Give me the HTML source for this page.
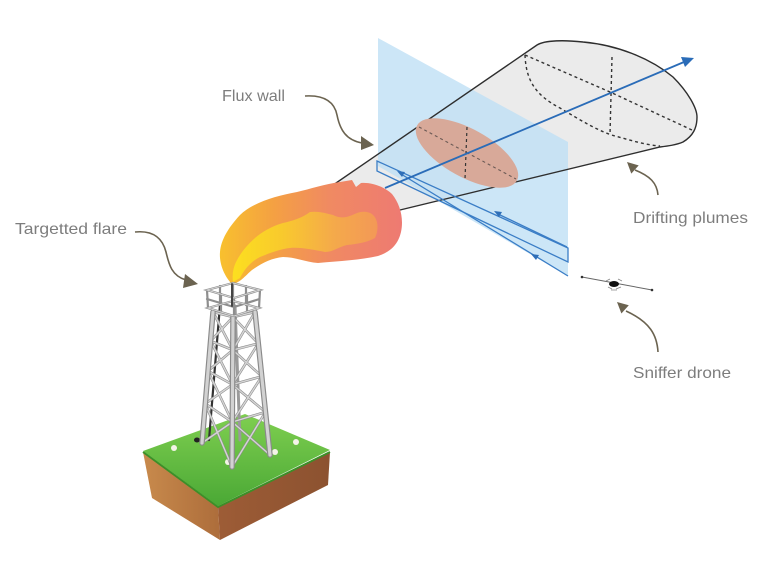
<!DOCTYPE html>
<html><head><meta charset="utf-8"><style>
html,body{margin:0;padding:0;background:#fff;}
svg{display:block;}
text{font-family:"Liberation Sans",sans-serif;font-size:16px;fill:#7d7d7d;}
</style></head><body>
<svg width="768" height="564" viewBox="0 0 768 564" xmlns="http://www.w3.org/2000/svg">
<defs>
<linearGradient id="flareG" x1="220" y1="0" x2="402" y2="0" gradientUnits="userSpaceOnUse">
<stop offset="0" stop-color="#f8c02e"/><stop offset="0.3" stop-color="#f4a043"/><stop offset="0.6" stop-color="#f08a62"/><stop offset="1" stop-color="#ee7a72"/>
</linearGradient>
<linearGradient id="innerG" x1="228" y1="0" x2="380" y2="0" gradientUnits="userSpaceOnUse">
<stop offset="0" stop-color="#fde51c"/><stop offset="0.35" stop-color="#f9cf2a"/><stop offset="0.7" stop-color="#f5ad48"/><stop offset="1" stop-color="#f39a55"/>
</linearGradient>
<linearGradient id="grassG" x1="0" y1="414" x2="0" y2="506" gradientUnits="userSpaceOnUse">
<stop offset="0" stop-color="#7fcf50"/><stop offset="1" stop-color="#4aa835"/>
</linearGradient>
<linearGradient id="leftF" x1="143" y1="0" x2="220" y2="0" gradientUnits="userSpaceOnUse">
<stop offset="0" stop-color="#c88a4c"/><stop offset="1" stop-color="#ad6d3b"/>
</linearGradient>
<linearGradient id="rightF" x1="220" y1="0" x2="330" y2="0" gradientUnits="userSpaceOnUse">
<stop offset="0" stop-color="#9d5c36"/><stop offset="1" stop-color="#8c5230"/>
</linearGradient>
</defs>

<!-- cone -->
<path d="M320,194 L537,45 C545,40 565,40 583,42 C617,45 650,58 673,77 C688,92 697,108 697,117 C697,128 693,136 683,142 C676,145 668,146 660,147 L400,210 Z" fill="#ebebeb"/>

<!-- flux wall -->
<polygon points="378,38 568,142 568,276 378,166" fill="#bfe0f5" fill-opacity="0.8"/>

<!-- cone outline -->
<path d="M320,194 L537,45 C545,40 565,40 583,42 C617,45 650,58 673,77 C688,92 697,108 697,117 C697,128 693,136 683,142 C676,145 668,146 660,147 L400,210" fill="none" stroke="#2e2e2e" stroke-width="1.4"/>

<!-- dashed cap lines -->
<path d="M525,55 C526,80 535,95 560,108 C580,120 600,132 615,136 C630,140 645,145 660,146" fill="none" stroke="#333" stroke-width="1.4" stroke-dasharray="3,3"/>
<path d="M525,55 L610,92 L692,130" fill="none" stroke="#333" stroke-width="1.4" stroke-dasharray="3,3"/>
<path d="M612,57 L610,134" fill="none" stroke="#333" stroke-width="1.4" stroke-dasharray="3,3"/>

<!-- red ellipse -->
<ellipse cx="467" cy="153" rx="57" ry="24" transform="rotate(29 467 153)" fill="#d8a999"/>
<path d="M419,127 L516,179" stroke="#6b5a55" stroke-width="1.1" stroke-dasharray="3,3" fill="none"/>
<path d="M467,127 L465,179" stroke="#333" stroke-width="1.2" stroke-dasharray="3,3" fill="none"/>

<!-- bar and flight lines -->
<polygon points="377,161 568,248 568,262 377,171" fill="none" stroke="#3a7dc6" stroke-width="1.3"/>
<line x1="568" y1="276" x2="401" y2="174" stroke="#3a7dc6" stroke-width="1.3"/>
<polygon points="397,171 405,172 402,177" fill="#2f6fb8"/>
<polygon points="531,254 539,255 536,260" fill="#2f6fb8"/>
<line x1="567" y1="247" x2="498" y2="214" stroke="#3a7dc6" stroke-width="1.3"/>
<polygon points="494,211 502,212 499,217" fill="#2f6fb8"/>

<!-- main blue arrow -->
<line x1="385" y1="188" x2="684" y2="62" stroke="#2a6cb8" stroke-width="1.8"/>
<polygon points="694,58 681,57 685,67" fill="#2a6cb8"/>

<!-- flare -->
<path d="M232,284 C224,276 219,263 220,252 C221,240 228,228 240,215 C252,203 275,196 297,192 C310,189 325,184 340,182 L352,180 L356,187 L361,183 C370,182 384,186 392,194 C400,204 404,218 401,232 C398,245 390,252 378,256 C360,260 340,261 318,263 C305,262 295,257 283,257 C272,258 262,263 252,270 C245,276 240,283 232,284 Z" fill="url(#flareG)"/>
<path d="M233,282 C232,275 233,268 236,262 C240,254 246,246 255,238 C262,232 272,226 283,223 C292,221 302,218 310,212 C318,211 325,213 333,215 C343,220 350,216 357,213 C362,211 370,211 374,216 C379,222 378,232 375,238 C368,242 358,244 347,245 C338,247 333,252 325,252 C315,250 300,247 290,248 C280,249 270,253 260,257 C250,262 244,270 240,278 Z" fill="url(#innerG)" opacity="0.9"/>

<!-- ground block -->
<polygon points="143,452 218,507 220,540 152,498" fill="url(#leftF)"/>
<polygon points="218,507 330,452 328,485 220,540" fill="url(#rightF)"/>
<polygon points="143,451 245,414 330,450 218,506" fill="url(#grassG)"/>
<polyline points="143,452 218,507 330,452" fill="none" stroke="#3c8f28" stroke-width="2"/>
<circle cx="174" cy="448" r="3" fill="#f4f4e8"/>
<circle cx="228" cy="462" r="3" fill="#f4f4e8"/>
<circle cx="275" cy="452" r="3" fill="#f4f4e8"/>
<circle cx="296" cy="442" r="3" fill="#f4f4e8"/>
<ellipse cx="197" cy="440" rx="3" ry="2.5" fill="#222"/>

<!-- tower -->
<g stroke-linecap="round" fill="none">
<!-- back leg -->
<line x1="235" y1="306" x2="240" y2="440" stroke="#9a9a9a" stroke-width="3"/>
<!-- dark pipe -->
<line x1="220" y1="305" x2="209" y2="440" stroke="#333" stroke-width="2.2"/>
<!-- braces -->
<g stroke="#8c8c8c" stroke-width="2.6">
<path d="M213,312 L233,317 L255,312 M210.6,341 L232.8,350 L258.3,343.5 M208,371 L232.5,384.5 L261.8,376.4 M205.3,403.7 L232.3,422 L265.5,412"/>
<path d="M213,312 L232.8,350 M233,317 L210.6,341 M210.6,341 L232.5,384.5 M232.8,350 L208,371 M208,371 L232.3,422 M232.5,384.5 L205.3,403.7 M205.3,403.7 L232,467 M232.3,422 L202,443"/>
<path d="M233,317 L258.3,343.5 M255,312 L232.8,350 M232.8,350 L261.8,376.4 M258.3,343.5 L232.5,384.5 M232.5,384.5 L265.5,412 M261.8,376.4 L232.3,422 M232.3,422 L270,455 M265.5,412 L232,467"/>
</g>
<g stroke="#d6d6d6" stroke-width="1.4">
<path d="M213,312 L233,317 L255,312 M210.6,341 L232.8,350 L258.3,343.5 M208,371 L232.5,384.5 L261.8,376.4 M205.3,403.7 L232.3,422 L265.5,412"/>
<path d="M213,312 L232.8,350 M233,317 L210.6,341 M210.6,341 L232.5,384.5 M232.8,350 L208,371 M208,371 L232.3,422 M232.5,384.5 L205.3,403.7 M205.3,403.7 L232,467 M232.3,422 L202,443"/>
<path d="M233,317 L258.3,343.5 M255,312 L232.8,350 M232.8,350 L261.8,376.4 M258.3,343.5 L232.5,384.5 M232.5,384.5 L265.5,412 M261.8,376.4 L232.3,422 M232.3,422 L270,455 M265.5,412 L232,467"/>
</g>
<!-- main legs -->
<g stroke="#8a8a8a" stroke-width="5.5">
<line x1="213" y1="312" x2="202" y2="443"/><line x1="233" y1="317" x2="232" y2="467"/><line x1="255" y1="312" x2="270" y2="455"/>
</g>
<g stroke="#d2d2d2" stroke-width="3.2">
<line x1="213" y1="312" x2="202" y2="443"/><line x1="233" y1="317" x2="232" y2="467"/><line x1="255" y1="312" x2="270" y2="455"/>
</g>
<!-- platform -->
<g stroke="#8e8e8e" stroke-width="2.2">
<polygon points="207,290 233,283 260,290 234,298"/>
<polygon points="208,308 233,301 259,308 234,316"/>
<path d="M207,290 L208,308 M234,298 L234,316 M260,290 L259,308 M233,283 L233,301 M207,299 L234,307 L259.5,299 M220,286 L220,305 M246,286 L246,305 M221,294 L221,312 M247,294 L247,312"/>
</g>
<g stroke="#dedede" stroke-width="0.9">
<polygon points="207,290 233,283 260,290 234,298"/>
<polygon points="208,308 233,301 259,308 234,316"/>
</g>
<line x1="232" y1="284" x2="232" y2="306" stroke="#444" stroke-width="2"/>
</g>

<!-- drone -->
<line x1="582" y1="277" x2="652" y2="290" stroke="#666" stroke-width="1"/>
<circle cx="582" cy="277" r="1.3" fill="#333"/>
<circle cx="652" cy="290" r="1.3" fill="#333"/>
<ellipse cx="614" cy="284" rx="5" ry="3" fill="#111"/>
<path d="M606,281 L610,279 M618,279 L622,281 M608,287 L612,289 M616,289 L621,287 M611,290 L617,290" stroke="#888" stroke-width="0.8"/>

<!-- callout arrows -->
<g fill="none" stroke="#6b6350" stroke-width="1.6">
<path d="M305,96 C322,95 334,100 337,115 C340,130 346,140 362,143"/>
<path d="M135,232 C155,230 163,240 166,252 C169,265 172,276 186,280"/>
<path d="M658,195 C657,183 650,176 635,170"/>
<path d="M658,352 C657,335 650,322 626,311"/>
</g>
<g fill="#6b6350">
<polygon points="374,145 361,136 361,150"/>
<polygon points="198,284 185,274 183,288"/>
<polygon points="627,162 638.7,165.4 631.3,173.6"/>
<polygon points="617,302 628.8,305.3 621.4,313.5"/>
</g>

<!-- labels -->
<text x="222" y="101" textLength="63" lengthAdjust="spacingAndGlyphs">Flux wall</text>
<text x="15" y="234" textLength="112" lengthAdjust="spacingAndGlyphs">Targetted flare</text>
<text x="633" y="223" textLength="115" lengthAdjust="spacingAndGlyphs">Drifting plumes</text>
<text x="633" y="378" textLength="98" lengthAdjust="spacingAndGlyphs">Sniffer drone</text>
</svg>
</body></html>
